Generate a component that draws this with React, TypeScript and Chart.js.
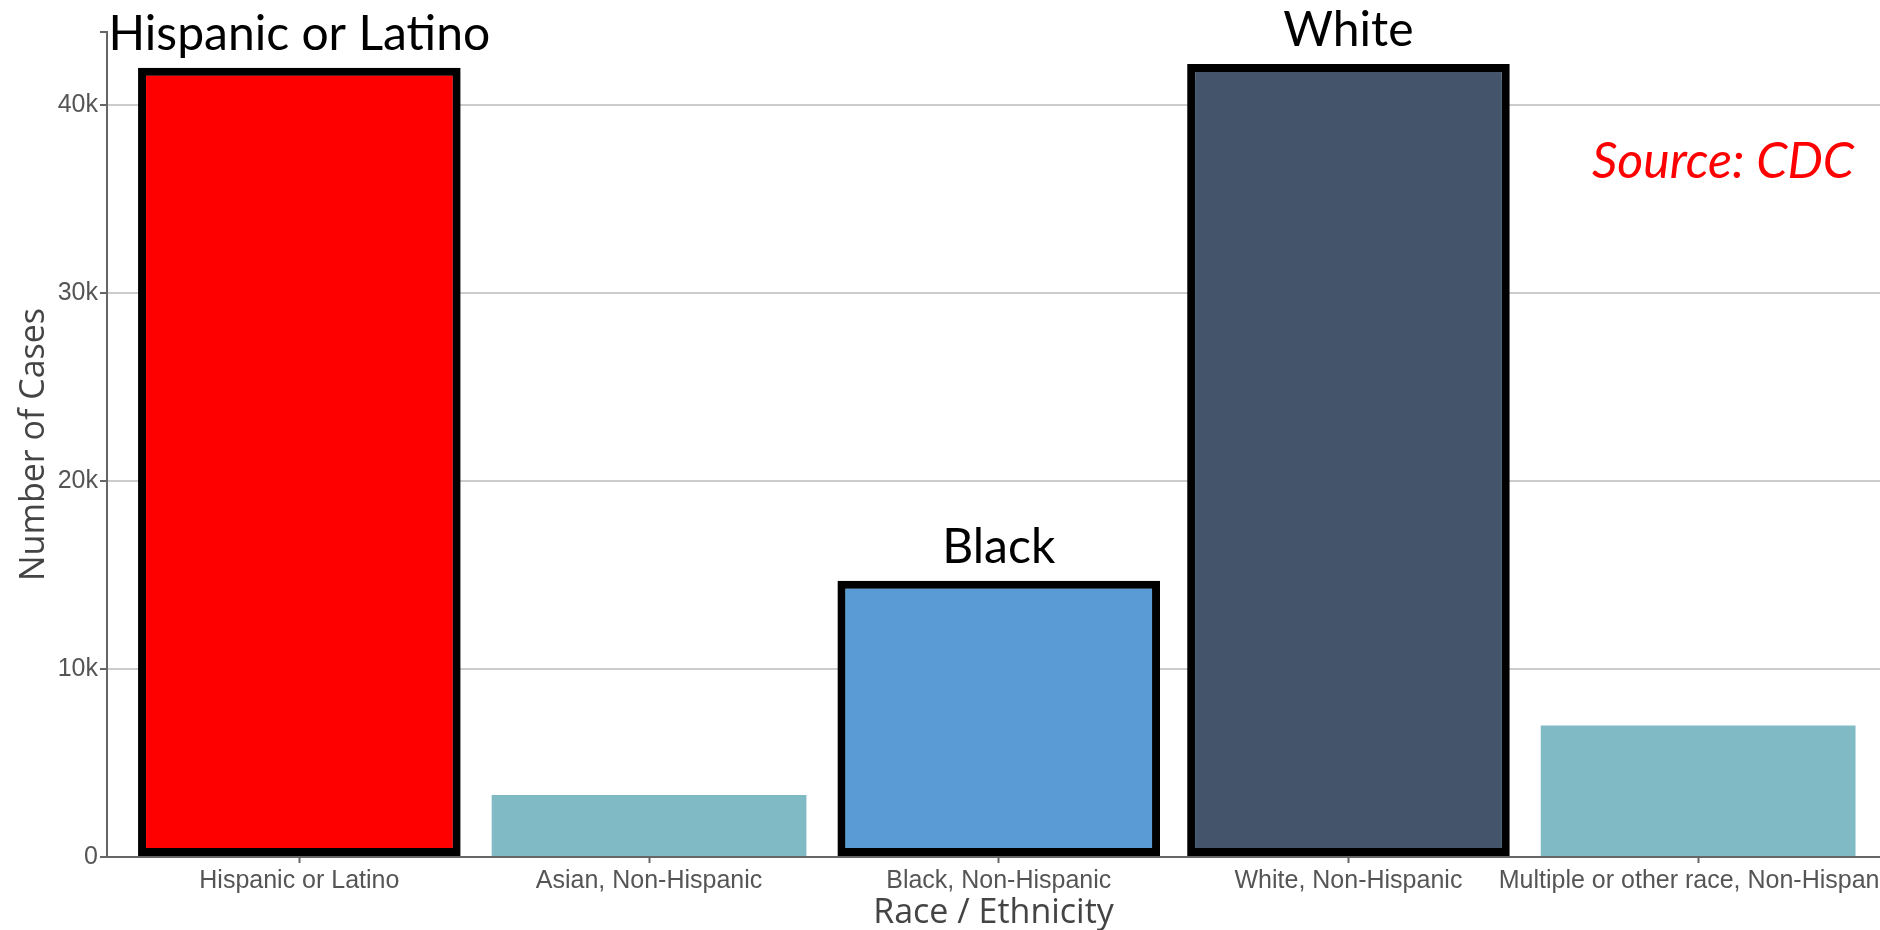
import React, { useEffect, useRef } from "react";
import { Chart, registerables } from "chart.js";

Chart.register(...registerables);

const categories = [
  "Hispanic or Latino",
  "Asian, Non-Hispanic",
  "Black, Non-Hispanic",
  "White, Non-Hispanic",
  "Multiple or other race, Non-Hispanic",
];
// underlying chart bars
const cases = [41800, 3300, 14500, 41400, 7000];
const baseColor = "#7fbac5";
// highlight boxes drawn over the chart
const highlightValues = [42000, null, 14700, 42200, null];
const highlightColors = ["#ff0000", "#7fbac5", "#5b9bd5", "#44546a", "#7fbac5"];
const highlightLabels = ["Hispanic or Latino", "", "Black", "White", ""];
const yTicks = [0, 10000, 20000, 30000, 40000];
const yMax = 43900;
const xMin = -0.55;
const xMax = 4.52;
const sourceText = "Source: CDC";

const annotationPlugin = {
  id: "annotations",
  afterDatasetsDraw(chart: any) {
    const ctx = chart.ctx;
    const meta = chart.getDatasetMeta(0);
    ctx.save();
    ctx.fillStyle = "#000";
    ctx.font = "48px Lato, 'Noto Sans', sans-serif";
    ctx.textAlign = "center";
    ctx.textBaseline = "alphabetic";
    highlightLabels.forEach((t, i) => {
      if (!t) return;
      const el = meta.data[i];
      ctx.fillText(t, el.x, el.y - 18);
    });
    ctx.fillStyle = "#ff0000";
    ctx.font = "italic 50px Lato, 'Noto Sans', sans-serif";
    ctx.fillText(sourceText, chart.chartArea.right - 157, 178);
    ctx.restore();
  },
};

export default function App() {
  const ref = useRef<HTMLCanvasElement | null>(null);
  useEffect(() => {
    if (!ref.current) return;
    const chart = new Chart(ref.current, {
      type: "bar",
      data: {
        datasets: [
          {
            data: highlightValues.map((v, i) => ({ x: i, y: v })),
            backgroundColor: highlightColors,
            borderColor: "#000000",
            borderWidth: 8,
            borderSkipped: false,
            categoryPercentage: 0.9,
            barPercentage: 1.025,
            grouped: false,
            order: 0,
          } as any,
          {
            data: cases.map((v, i) => ({ x: i, y: v })),
            backgroundColor: baseColor,
            borderWidth: 0,
            categoryPercentage: 0.9,
            barPercentage: 1,
            grouped: false,
            order: 1,
          } as any,
        ],
      },
      options: {
        animation: false,
        responsive: false,
        layout: { padding: { top: 32, right: 0, left: 0, bottom: 0 } },
        plugins: { legend: { display: false }, tooltip: { enabled: false } },
        scales: {
          x: {
            type: "linear",
            offset: false,
            min: xMin,
            max: xMax,
            afterBuildTicks: (scale: any) => {
              scale.ticks = categories.map((_, i) => ({ value: i }));
            },
            afterFit: (scale: any) => {
              scale.height = 73;
              scale.paddingLeft = 0;
              scale.paddingRight = 0;
            },
            ticks: {
              autoSkip: false,
              maxRotation: 0,
              minRotation: 0,
              padding: 3,
              color: "#555555",
              font: { family: "'Liberation Sans', Arial, sans-serif", size: 25 },
              callback: (_v: any, i: number) => categories[i],
            },
            grid: {
              offset: false,
              drawOnChartArea: false,
              drawTicks: true,
              tickLength: 6,
              tickColor: "#666666",
              tickWidth: 2,
            },
            border: { color: "#666666", width: 2 },
            title: {
              display: true,
              text: "Race / Ethnicity",
              color: "#444444",
              font: { family: "'Open Sans', sans-serif", size: 34, lineHeight: 1 },
              padding: { top: 0, bottom: 0 },
            },
          },
          y: {
            min: 0,
            max: yMax,
            afterBuildTicks: (scale: any) => {
              scale.ticks = [...yTicks, yMax].map((v) => ({ value: v }));
            },
            afterFit: (scale: any) => {
              scale.width = 107;
              scale.paddingTop = 0;
              scale.paddingBottom = 0;
            },
            ticks: {
              padding: 2,
              color: "#555555",
              font: { family: "'Liberation Sans', Arial, sans-serif", size: 25 },
              callback: (v: any) => (v === yMax ? "" : v === 0 ? "0" : v / 1000 + "k"),
            },
            grid: {
              color: (c: any) => (c.tick && c.tick.value > 40000 ? "rgba(0,0,0,0)" : "#cccccc"),
              lineWidth: 2,
              tickLength: 7,
              tickColor: "#666666",
              tickWidth: 2,
            },
            border: { color: "#666666", width: 2 },
            title: {
              display: true,
              text: "Number of Cases",
              color: "#444444",
              font: { family: "'Open Sans', sans-serif", size: 34, lineHeight: 1 },
              padding: { top: 17, bottom: 0 },
            },
          },
        },
      } as any,
      plugins: [annotationPlugin],
    });
    return () => chart.destroy();
  }, []);
  return (
    <div style={{ position: "fixed", left: 0, top: 0, width: 1880, height: 930, background: "#fff" }}>
      <canvas ref={ref} width={1880} height={930} style={{ display: "block" }} />
    </div>
  );
}
